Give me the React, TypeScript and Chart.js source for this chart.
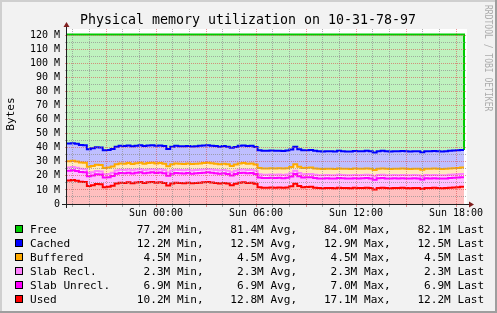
import React, { useEffect, useRef } from "react";
import { Chart, registerables } from "chart.js";

Chart.register(...registerables);

// ---- time axis (hours relative to Sun 00:00) ----
const axisMinHour = -5.34;
const axisMaxHour = 18.66;
const dataStartHour = -5.34;
const dataEndHour = 18.48;
const hourTicks = [-5, -4, -3, -2, -1, 0, 1, 2, 3, 4, 5, 6, 7, 8, 9, 10, 11, 12, 13, 14, 15, 16, 17, 18];
const labelHours = [0, 6, 12, 18];
const labelTexts = ["Sun 00:00", "Sun 06:00", "Sun 12:00", "Sun 18:00"];
const yTicks = [0, 5, 10, 15, 20, 25, 30, 35, 40, 45, 50, 55, 60, 65, 70, 75, 80, 85, 90, 95, 100, 105, 110, 115, 120];
const yMax = 124.5;

// ---- series values (M bytes) ----
const used = [
  16.8, 17.1, 16.6, 15.8, 15.6, 12.8, 13.4, 14.2, 14.0, 12.0,
  12.2, 13.0, 14.6, 15.2, 15.0, 15.4, 14.8, 15.3, 15.6, 15.0,
  15.4, 15.6, 15.2, 15.5, 15.0, 13.2, 14.6, 15.2, 14.9, 14.8,
  15.1, 14.7, 14.9, 15.2, 15.4, 15.6, 15.3, 15.0, 14.6, 15.0,
  14.5, 13.4, 14.4, 15.2, 15.4, 15.0, 15.2, 14.4, 12.0, 11.6,
  11.6, 11.8, 11.6, 11.7, 11.5, 11.8, 12.6, 14.4, 12.8, 12.0,
  12.1, 12.2, 11.6, 11.3, 11.2, 11.4, 11.3, 11.2, 11.6, 11.4,
  11.3, 11.2, 11.5, 11.3, 11.4, 11.6, 11.3, 10.4, 11.4, 11.6,
  11.3, 11.2, 11.4, 11.3, 11.5, 11.3, 11.2, 11.4, 11.3, 10.6,
  11.4, 11.3, 11.5, 11.3, 11.2, 11.3, 11.6, 11.8, 12.0, 12.2,
];
const slabUnrecl = [
  6.9, 6.9, 6.9, 6.9, 6.9, 6.9, 6.9, 6.9, 6.9, 6.9,
  6.9, 6.9, 6.9, 6.9, 6.9, 6.9, 6.9, 6.9, 6.9, 6.9,
  6.9, 6.9, 6.9, 6.9, 6.9, 6.9, 6.9, 6.9, 6.9, 6.9,
  6.9, 6.9, 6.9, 6.9, 6.9, 6.9, 6.9, 6.9, 6.9, 6.9,
  6.9, 6.9, 6.9, 6.9, 6.9, 6.9, 6.9, 6.9, 6.9, 6.9,
  6.9, 6.9, 6.9, 6.9, 6.9, 6.9, 6.9, 7.0, 6.9, 6.9,
  6.9, 6.9, 6.9, 6.9, 6.9, 6.9, 6.9, 6.9, 6.9, 6.9,
  6.9, 6.9, 6.9, 6.9, 6.9, 6.9, 6.9, 6.9, 6.9, 6.9,
  6.9, 6.9, 6.9, 6.9, 6.9, 6.9, 6.9, 6.9, 6.9, 6.9,
  6.9, 6.9, 6.9, 6.9, 6.9, 6.9, 6.9, 6.9, 6.9, 6.9,
];
const slabRecl = [
  2.3, 2.3, 2.3, 2.3, 2.3, 2.3, 2.3, 2.3, 2.3, 2.3,
  2.3, 2.3, 2.3, 2.3, 2.3, 2.3, 2.3, 2.3, 2.3, 2.3,
  2.3, 2.3, 2.3, 2.3, 2.3, 2.3, 2.3, 2.3, 2.3, 2.3,
  2.3, 2.3, 2.3, 2.3, 2.3, 2.3, 2.3, 2.3, 2.3, 2.3,
  2.3, 2.3, 2.3, 2.3, 2.3, 2.3, 2.3, 2.3, 2.3, 2.3,
  2.3, 2.3, 2.3, 2.3, 2.3, 2.3, 2.3, 2.3, 2.3, 2.3,
  2.3, 2.3, 2.3, 2.3, 2.3, 2.3, 2.3, 2.3, 2.3, 2.3,
  2.3, 2.3, 2.3, 2.3, 2.3, 2.3, 2.3, 2.3, 2.3, 2.3,
  2.3, 2.3, 2.3, 2.3, 2.3, 2.3, 2.3, 2.3, 2.3, 2.3,
  2.3, 2.3, 2.3, 2.3, 2.3, 2.3, 2.3, 2.3, 2.3, 2.3,
];
const buffered = [
  4.5, 4.5, 4.5, 4.5, 4.5, 4.5, 4.5, 4.5, 4.5, 4.5,
  4.5, 4.5, 4.5, 4.5, 4.5, 4.5, 4.5, 4.5, 4.5, 4.5,
  4.5, 4.5, 4.5, 4.5, 4.5, 4.5, 4.5, 4.5, 4.5, 4.5,
  4.5, 4.5, 4.5, 4.5, 4.5, 4.5, 4.5, 4.5, 4.5, 4.5,
  4.5, 4.5, 4.5, 4.5, 4.5, 4.5, 4.5, 4.5, 4.5, 4.5,
  4.5, 4.5, 4.5, 4.5, 4.5, 4.5, 4.5, 4.5, 4.5, 4.5,
  4.5, 4.5, 4.5, 4.5, 4.5, 4.5, 4.5, 4.5, 4.5, 4.5,
  4.5, 4.5, 4.5, 4.5, 4.5, 4.5, 4.5, 4.5, 4.5, 4.5,
  4.5, 4.5, 4.5, 4.5, 4.5, 4.5, 4.5, 4.5, 4.5, 4.5,
  4.5, 4.5, 4.5, 4.5, 4.5, 4.5, 4.5, 4.5, 4.5, 4.5,
];
const cached = [
  12.6, 12.5, 12.6, 12.5, 12.5, 12.5, 12.5, 12.5, 12.5, 12.5,
  12.5, 12.5, 12.5, 12.5, 12.5, 12.5, 12.5, 12.5, 12.5, 12.5,
  12.5, 12.5, 12.5, 12.5, 12.5, 12.2, 12.5, 12.5, 12.5, 12.5,
  12.5, 12.5, 12.5, 12.5, 12.5, 12.5, 12.5, 12.5, 12.5, 12.5,
  12.5, 12.9, 12.5, 12.5, 12.5, 12.5, 12.5, 12.5, 12.5, 12.5,
  12.5, 12.5, 12.5, 12.5, 12.5, 12.5, 12.5, 12.5, 12.5, 12.5,
  12.5, 12.5, 12.5, 12.5, 12.5, 12.5, 12.5, 12.5, 12.5, 12.5,
  12.4, 12.5, 12.5, 12.5, 12.5, 12.5, 12.5, 12.5, 12.5, 12.5,
  12.5, 12.5, 12.5, 12.5, 12.5, 12.6, 12.5, 12.5, 12.5, 12.5,
  12.5, 12.5, 12.5, 12.5, 12.5, 12.5, 12.5, 12.5, 12.5, 12.5,
];
const free = [
  77.4, 77.2, 77.6, 78.5, 78.7, 81.5, 80.9, 80.1, 80.3, 82.3,
  82.1, 81.3, 79.7, 79.1, 79.3, 78.9, 79.5, 79.0, 78.7, 79.3,
  78.9, 78.7, 79.1, 78.8, 79.3, 81.4, 79.7, 79.1, 79.4, 79.5,
  79.2, 79.6, 79.4, 79.1, 78.9, 78.7, 79.0, 79.3, 79.7, 79.3,
  79.8, 80.5, 79.9, 79.1, 78.9, 79.3, 79.1, 79.9, 82.3, 82.7,
  82.7, 82.5, 82.7, 82.6, 82.8, 82.5, 81.7, 79.8, 81.5, 82.3,
  82.2, 82.1, 82.7, 83.0, 83.1, 82.9, 83.0, 83.1, 82.7, 82.9,
  83.1, 83.1, 82.8, 83.0, 82.9, 82.7, 83.0, 83.9, 82.9, 82.7,
  83.0, 83.1, 82.9, 83.0, 82.8, 82.9, 83.1, 82.9, 83.0, 83.7,
  82.9, 83.0, 82.8, 83.0, 83.1, 83.0, 82.7, 82.5, 82.3, 82.1,
];
const freeClosing = 0;

// ---- legend ----
const legendNames = ["Free", "Cached", "Buffered", "Slab Recl.", "Slab Unrecl.", "Used"];
const legendColors = ["#00CC00", "#0000FF", "#FFAA00", "#FF80FF", "#FF00FF", "#FF0000"];
const minVals = ["77.2M", "12.2M", "4.5M", "2.3M", "6.9M", "10.2M"];
const avgVals = ["81.4M", "12.5M", "4.5M", "2.3M", "6.9M", "12.8M"];
const maxVals = ["84.0M", "12.9M", "4.5M", "2.3M", "7.0M", "17.1M"];
const lastVals = ["82.1M", "12.5M", "4.5M", "2.3M", "6.9M", "12.2M"];

const titleText = "Physical memory utilization on 10-31-78-97";
const yTitle = "Bytes";
const watermark = "RRDTOOL / TOBI OETIKER";

const MONO = "'DejaVu Sans Mono', monospace";
const MINOR = "rgba(143,143,143,0.7)";
const MAJOR = "rgba(222,79,79,0.6)";

function buildSeries(vals: number[], closing: number) {
  const n = vals.length;
  const step = (dataEndHour - dataStartHour) / n;
  const pts = vals.map((v, i) => ({ x: dataStartHour + i * step, y: v }));
  pts.push({ x: dataEndHour, y: closing });
  return pts;
}

const bgPlugin = {
  id: "rrdBackground",
  beforeDraw(chart: any) {
    const ctx = chart.ctx;
    const a = chart.chartArea;
    const W = chart.width;
    const H = chart.height;
    ctx.save();
    ctx.fillStyle = "#F2F2F2";
    ctx.fillRect(0, 0, W, H);
    ctx.fillStyle = "#CFCFCF";
    ctx.fillRect(0, 0, W, 2);
    ctx.fillRect(0, 0, 2, H);
    ctx.fillStyle = "#9E9E9E";
    ctx.fillRect(0, H - 2, W, 2);
    ctx.fillRect(W - 2, 0, 2, H);
    ctx.fillStyle = "#FFFFFF";
    ctx.fillRect(a.left, a.top, a.right - a.left, a.bottom - a.top);
    ctx.restore();
  },
};

const decorPlugin = {
  id: "rrdDecor",
  afterDraw(chart: any) {
    const ctx = chart.ctx;
    const a = chart.chartArea;
    ctx.save();
    // axes
    const ax = a.left - 0.5;
    const ay = a.bottom + 0.5;
    ctx.strokeStyle = "#1F1F1F";
    ctx.lineWidth = 1;
    ctx.beginPath();
    ctx.moveTo(a.left - 5, ay);
    ctx.lineTo(a.right + 4, ay);
    ctx.moveTo(ax, a.bottom + 4);
    ctx.lineTo(ax, a.top - 4);
    ctx.stroke();
    ctx.fillStyle = "#801F1F";
    ctx.beginPath();
    ctx.moveTo(a.right + 2, ay - 3);
    ctx.lineTo(a.right + 2, ay + 3);
    ctx.lineTo(a.right + 7, ay);
    ctx.closePath();
    ctx.fill();
    ctx.beginPath();
    ctx.moveTo(ax - 3, a.top - 2);
    ctx.lineTo(ax + 3, a.top - 2);
    ctx.lineTo(ax, a.top - 7);
    ctx.closePath();
    ctx.fill();

    // title
    ctx.fillStyle = "#000";
    ctx.font = `13.3px ${MONO}`;
    ctx.textAlign = "center";
    ctx.textBaseline = "alphabetic";
    ctx.fillText(titleText, 248, 23.5);

    // y title
    ctx.save();
    ctx.translate(14, 114);
    ctx.rotate(-Math.PI / 2);
    ctx.font = `11.1px ${MONO}`;
    ctx.textAlign = "center";
    ctx.fillText(yTitle, 0, 0);
    ctx.restore();

    // watermark
    ctx.save();
    ctx.translate(485, 5);
    ctx.rotate(Math.PI / 2);
    ctx.scale(0.73, 1);
    ctx.font = `11px ${MONO}`;
    ctx.fillStyle = "#ADADAD";
    ctx.textAlign = "left";
    ctx.fillText(watermark, 0, 0);
    ctx.restore();

    // legend
    ctx.font = `11.1px ${MONO}`;
    ctx.textAlign = "left";
    ctx.textBaseline = "alphabetic";
    for (let k = 0; k < legendNames.length; k++) {
      const top = 225 + 14 * k;
      ctx.fillStyle = legendColors[k];
      ctx.fillRect(15, top, 8, 8);
      ctx.strokeStyle = "#000";
      ctx.lineWidth = 1;
      ctx.strokeRect(15.5, top + 0.5, 7, 7);
      const line =
        legendNames[k].padEnd(16) +
        minVals[k].padStart(5) + " Min,    " +
        avgVals[k].padStart(5) + " Avg,    " +
        maxVals[k].padStart(5) + " Max,    " +
        lastVals[k].padStart(5) + " Last";
      ctx.fillStyle = "#000";
      ctx.fillText(line, 30, top + 8.3);
    }
    ctx.restore();
  },
};

export default function App() {
  const canvasRef = useRef<HTMLCanvasElement | null>(null);

  useEffect(() => {
    const canvas = canvasRef.current;
    if (!canvas) return;

    const mk = (label: string, vals: number[], line: string, area: string, fill: any, closing: number) => ({
      label,
      data: buildSeries(vals, closing),
      borderColor: line,
      backgroundColor: area,
      borderWidth: 2,
      fill,
      stepped: "before" as const,
      pointRadius: 0,
      tension: 0,
    });

    const chart = new Chart(canvas, {
      type: "line",
      data: {
        datasets: [
          mk("Used", used, "#FF0000", "#FFBFBF", "origin", used[used.length - 1]),
          mk("Slab Unrecl.", slabUnrecl, "#FF00FF", "#FFBFFF", "-1", slabUnrecl[slabUnrecl.length - 1]),
          mk("Slab Recl.", slabRecl, "#FF80FF", "#FFDFFF", "-1", slabRecl[slabRecl.length - 1]),
          mk("Buffered", buffered, "#FFAA00", "#FFEABF", "-1", buffered[buffered.length - 1]),
          mk("Cached", cached, "#0000FF", "#BFBFFF", "-1", cached[cached.length - 1]),
          mk("Free", free, "#00CC00", "#BFF2BF", "-1", freeClosing),
        ],
      },
      options: {
        responsive: false,
        animation: false,
        devicePixelRatio: 1,
        layout: { padding: { left: 0, top: 29, right: 30, bottom: 89 } },
        plugins: {
          legend: { display: false },
          tooltip: { enabled: false },
          title: { display: false },
        },
        scales: {
          x: {
            type: "linear",
            min: axisMinHour,
            max: axisMaxHour,
            afterFit: (s: any) => {
              s.height = 20;
            },
            afterBuildTicks: (s: any) => {
              s.ticks = hourTicks.map((v) => ({ value: v }));
            },
            ticks: {
              autoSkip: false,
              maxRotation: 0,
              minRotation: 0,
              padding: 0,
              color: "#000",
              font: { family: MONO, size: 10 },
              callback: (v: any) => {
                const i = labelHours.indexOf(Number(v));
                return i >= 0 ? labelTexts[i] : "";
              },
            },
            grid: {
              z: 1,
              lineWidth: 1,
              tickLength: 3,
              color: (c: any) => (c.tick && c.tick.value % 3 === 0 ? MAJOR : MINOR),
            },
            border: { display: false, dash: [1, 1] },
          },
          y: {
            type: "linear",
            stacked: true,
            min: 0,
            max: yMax,
            afterFit: (s: any) => {
              s.width = 67;
            },
            afterBuildTicks: (s: any) => {
              s.ticks = yTicks.map((v) => ({ value: v }));
            },
            ticks: {
              autoSkip: false,
              padding: 5,
              color: "#000",
              font: { family: MONO, size: 10 },
              callback: (v: any) => {
                const n = Number(v);
                if (n === 0) return "0";
                return n % 10 === 0 ? `${n} M` : "";
              },
            },
            grid: {
              z: 1,
              lineWidth: 1,
              tickLength: 2,
              color: (c: any) => (c.tick && c.tick.value % 10 === 0 ? MAJOR : MINOR),
            },
            border: { display: false, dash: [1, 1] },
          },
        },
      },
      plugins: [bgPlugin, decorPlugin],
    });

    return () => {
      chart.destroy();
    };
  }, []);

  return (
    <div style={{ position: "absolute", left: 0, top: 0, width: 497, height: 313 }}>
      <canvas
        ref={canvasRef}
        width={497}
        height={313}
        style={{ display: "block", width: 497, height: 313 }}
      />
    </div>
  );
}
